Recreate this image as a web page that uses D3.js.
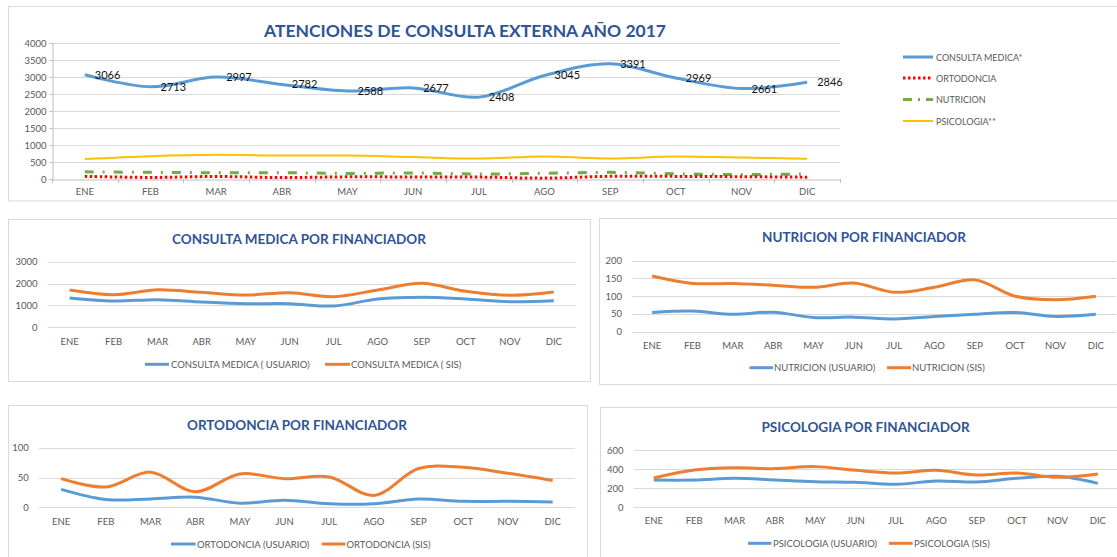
<!DOCTYPE html>
<html>
<head>
<meta charset="utf-8">
<script src="https://cdn.jsdelivr.net/npm/d3@7/dist/d3.min.js"></script>
<style>
  html, body { margin: 0; padding: 0; background: #fff; }
  svg { display: block; font-family: Lato, "Open Sans", sans-serif; }
</style>
</head>
<body>
<svg id="chart" width="1117" height="557"></svg>
<script>
// ---------------- DATA ----------------
const months = ["ENE","FEB","MAR","ABR","MAY","JUN","JUL","AGO","SEP","OCT","NOV","DIC"];

// Top chart: totals
const consultaMedicaTotal = [3066, 2713, 2997, 2782, 2588, 2677, 2408, 3045, 3391, 2969, 2661, 2846];
const ortodonciaTotal     = [78, 46, 73, 43, 63, 60, 57, 26, 79, 77, 67, 54];
const nutricionTotal      = [210, 195, 185, 185, 165, 178, 147, 168, 195, 153, 133, 149];
const psicologiaTotal     = [585, 670, 710, 690, 690, 645, 600, 665, 605, 665, 630, 595];
const topTicks = [0, 500, 1000, 1500, 2000, 2500, 3000, 3500, 4000];
const topLegend = ["CONSULTA MEDICA*", "ORTODONCIA", "NUTRICION", "PSICOLOGIA**"];

// Consulta medica por financiador
const consultaUsuario = [1340, 1202, 1263, 1157, 1080, 1080, 974, 1294, 1370, 1294, 1172, 1218];
const consultaSis     = [1705, 1492, 1720, 1598, 1476, 1583, 1400, 1705, 2009, 1644, 1461, 1613];
const consultaTicks   = [0, 1000, 2000, 3000];

// Nutricion por financiador
const nutricionUsuario = [54, 58, 49, 55, 40, 41, 36, 43, 49, 54, 43, 49];
const nutricionSis     = [157, 136, 136, 131, 125, 137, 111, 125, 146, 100, 90, 100];
const nutricionTicks   = [0, 50, 100, 150, 200];

// Ortodoncia por financiador
const ortodonciaUsuario = [30, 13, 14, 17, 7, 12, 6, 6, 14, 10, 10, 9];
const ortodonciaSis     = [48, 34, 59, 26, 56, 48, 51, 20, 65, 67, 57, 45];
const ortodonciaTicks   = [0, 50, 100];

// Psicologia por financiador
const psicologiaUsuario = [284, 284, 302, 284, 267, 260, 239, 274, 263, 302, 323, 249];
const psicologiaSis     = [305, 389, 414, 404, 425, 386, 358, 386, 337, 358, 312, 347];
const psicologiaTicks   = [0, 200, 400, 600];

// ---------------- STYLE ----------------
const BLUE = "#5B9BD5", ORANGE = "#ED7D31", RED = "#FF0000", GREEN = "#70AD47", GOLD = "#FFC000";
const GRID = "#D9D9D9", TXT = "#595959", TITLE = "#2F5496";
const fmt = d3.format("d");

const svg = d3.select("#chart");
const curve = d3.curveCatmullRom.alpha(0.5);

// ---------------- TOP CHART ----------------
(function(){
  svg.append("rect").attr("x", 8.5).attr("y", 6.5).attr("width", 1115).attr("height", 194.5)
    .attr("fill", "#fff").attr("stroke", GRID);

  const x = d3.scaleBand().domain(months).range([52, 840]);
  const y = d3.scaleLinear().domain([0, 4000]).range([179, 43]);
  const cx = d => x(d) + x.bandwidth() / 2;

  svg.append("text").attr("x", 465).attr("y", 37).attr("text-anchor", "middle")
    .attr("font-size", 17.5).attr("font-weight", "bold").attr("fill", TITLE)
    .text("ATENCIONES DE CONSULTA EXTERNA AÑO 2017");

  // gridlines
  svg.append("g").selectAll("line").data(topTicks.filter(t => t > 0)).join("line")
    .attr("x1", 52).attr("x2", 840).attr("y1", d => Math.round(y(d)) + 0.5).attr("y2", d => Math.round(y(d)) + 0.5)
    .attr("stroke", GRID);

  // y axis
  const yAxis = svg.append("g").attr("transform", "translate(52.5,0)")
    .call(d3.axisLeft(y).tickValues(topTicks).tickFormat(fmt).tickSize(3).tickPadding(3));
  yAxis.select(".domain").attr("stroke", "#BFBFBF");
  yAxis.selectAll(".tick line").attr("stroke", "#BFBFBF");
  yAxis.selectAll("text").attr("fill", TXT).attr("font-size", 9.5).attr("font-family", "Lato, sans-serif");

  // x axis
  const xAxis = svg.append("g").attr("transform", "translate(0,179.5)")
    .call(d3.axisBottom(x).tickSize(0).tickPadding(9));
  xAxis.select(".domain").attr("stroke", "#BFBFBF");
  xAxis.selectAll("text").attr("fill", TXT).attr("font-size", 9.5).attr("font-family", "Lato, sans-serif");
  svg.append("g").selectAll("line").data(d3.range(months.length + 1)).join("line")
    .attr("x1", i => Math.round(52 + i * x.step()) + 0.5).attr("x2", i => Math.round(52 + i * x.step()) + 0.5)
    .attr("y1", 179).attr("y2", 183).attr("stroke", "#BFBFBF");

  const line = vals => d3.line().x((d, i) => cx(months[i])).y(d => y(d)).curve(curve)(vals);

  svg.append("path").attr("d", line(psicologiaTotal)).attr("fill", "none").attr("stroke", GOLD).attr("stroke-width", 2);
  svg.append("path").attr("d", line(nutricionTotal)).attr("fill", "none").attr("stroke", GREEN).attr("stroke-width", 3)
    .attr("stroke-dasharray", "9,9,2,9");
  svg.append("path").attr("d", line(ortodonciaTotal)).attr("fill", "none").attr("stroke", RED).attr("stroke-width", 3)
    .attr("stroke-dasharray", "2.5,2.5");
  svg.append("path").attr("d", line(consultaMedicaTotal)).attr("fill", "none").attr("stroke", BLUE).attr("stroke-width", 3);

  svg.append("g").selectAll("text").data(consultaMedicaTotal).join("text")
    .attr("x", (d, i) => cx(months[i]) + 10).attr("y", d => y(d) + 4)
    .attr("font-size", 11).attr("fill", "#111").text(d => d);

  // legend
  const legendY = [57, 78, 99.5, 121];
  const styles = [
    {c: BLUE, w: 3, dash: null},
    {c: RED, w: 3, dash: "2.5,2.5"},
    {c: GREEN, w: 3, dash: "9,6,2,6"},
    {c: GOLD, w: 2, dash: null}
  ];
  topLegend.forEach((name, i) => {
    svg.append("line").attr("x1", 903).attr("x2", 933).attr("y1", legendY[i]).attr("y2", legendY[i])
      .attr("stroke", styles[i].c).attr("stroke-width", styles[i].w)
      .attr("stroke-dasharray", styles[i].dash);
    svg.append("text").attr("x", 936).attr("y", legendY[i] + 3.5).attr("font-size", 9)
      .attr("fill", TXT).text(name);
  });
})();

// ---------------- SUB PANELS ----------------
function panel(cfg) {
  const b = cfg.box;
  svg.append("rect").attr("x", b.x + 0.5).attr("y", b.y + 0.5).attr("width", b.w).attr("height", b.h)
    .attr("fill", "#fff").attr("stroke", GRID);

  const x = d3.scaleBand().domain(months).range([cfg.x0, cfg.x1]);
  const y = d3.scaleLinear().domain([0, d3.max(cfg.ticks)]).range([cfg.yBottom, cfg.yTop]);
  const cx = d => x(d) + x.bandwidth() / 2;

  svg.append("text").attr("x", cfg.titleX).attr("y", cfg.titleY + 5).attr("text-anchor", "middle")
    .attr("font-size", 13.5).attr("font-weight", "bold").attr("fill", TITLE).text(cfg.title);

  svg.append("g").selectAll("line").data(cfg.ticks).join("line")
    .attr("x1", cfg.x0).attr("x2", cfg.x1)
    .attr("y1", d => Math.round(y(d)) + 0.5).attr("y2", d => Math.round(y(d)) + 0.5).attr("stroke", GRID);

  const yAxis = svg.append("g").attr("transform", `translate(${cfg.x0},0)`)
    .call(d3.axisLeft(y).tickValues(cfg.ticks).tickFormat(fmt).tickSize(0).tickPadding(10));
  yAxis.select(".domain").remove();
  yAxis.selectAll("text").attr("fill", TXT).attr("font-size", 9.5).attr("font-family", "Lato, sans-serif");

  svg.append("g").selectAll("text").data(months).join("text")
    .attr("x", d => cx(d)).attr("y", cfg.xLabelY + 3.5).attr("text-anchor", "middle")
    .attr("font-size", 9.5).attr("fill", TXT).text(d => d);

  const line = vals => d3.line().x((d, i) => cx(months[i])).y(d => y(d)).curve(curve)(vals);
  svg.append("path").attr("d", line(cfg.usuario)).attr("fill", "none").attr("stroke", BLUE).attr("stroke-width", 3);
  svg.append("path").attr("d", line(cfg.sis)).attr("fill", "none").attr("stroke", ORANGE).attr("stroke-width", 3);

  cfg.legend.forEach((it, i) => {
    svg.append("line").attr("x1", it[0]).attr("x2", it[1]).attr("y1", cfg.legendY).attr("y2", cfg.legendY)
      .attr("stroke", i === 0 ? BLUE : ORANGE).attr("stroke-width", 3);
    svg.append("text").attr("x", it[2]).attr("y", cfg.legendY + 3.5).attr("font-size", 9.5)
      .attr("fill", TXT).text(cfg.names[i]);
  });
}

panel({
  box: {x: 8, y: 219, w: 582, h: 162},
  x0: 47.6, x1: 575.8, yTop: 261.7, yBottom: 327.3,
  ticks: consultaTicks, title: "CONSULTA MEDICA POR FINANCIADOR", titleX: 299, titleY: 238.5,
  xLabelY: 341, legendY: 364.3,
  legend: [[145, 169, 171], [325, 350, 351]],
  names: ["CONSULTA MEDICA ( USUARIO)", "CONSULTA MEDICA ( SIS)"],
  usuario: consultaUsuario, sis: consultaSis
});

panel({
  box: {x: 599, y: 218, w: 525, h: 166},
  x0: 632, x1: 1116, yTop: 260.7, yBottom: 331.7,
  ticks: nutricionTicks, title: "NUTRICION POR FINANCIADOR", titleX: 864, titleY: 236.7,
  xLabelY: 345, legendY: 367.7,
  legend: [[749.6, 773, 774], [887, 911, 912]],
  names: ["NUTRICION (USUARIO)", "NUTRICION (SIS)"],
  usuario: nutricionUsuario, sis: nutricionSis
});

panel({
  box: {x: 8, y: 405, w: 579, h: 200},
  x0: 38.8, x1: 575, yTop: 447.7, yBottom: 507.3,
  ticks: ortodonciaTicks, title: "ORTODONCIA POR FINANCIADOR", titleX: 297, titleY: 425,
  xLabelY: 521.7, legendY: 544,
  legend: [[171, 195.6, 197], [321.7, 345.4, 346.5]],
  names: ["ORTODONCIA (USUARIO)", "ORTODONCIA (SIS)"],
  usuario: ortodonciaUsuario, sis: ortodonciaSis
});

panel({
  box: {x: 600, y: 407, w: 525, h: 200},
  x0: 633.6, x1: 1118, yTop: 450, yBottom: 507,
  ticks: psicologiaTicks, title: "PSICOLOGIA POR FINANCIADOR", titleX: 865.5, titleY: 426.7,
  xLabelY: 520, legendY: 543.3,
  legend: [[748, 771.4, 773], [889, 912.6, 914]],
  names: ["PSICOLOGIA (USUARIO)", "PSICOLOGIA (SIS)"],
  usuario: psicologiaUsuario, sis: psicologiaSis
});
</script>
</body>
</html>
